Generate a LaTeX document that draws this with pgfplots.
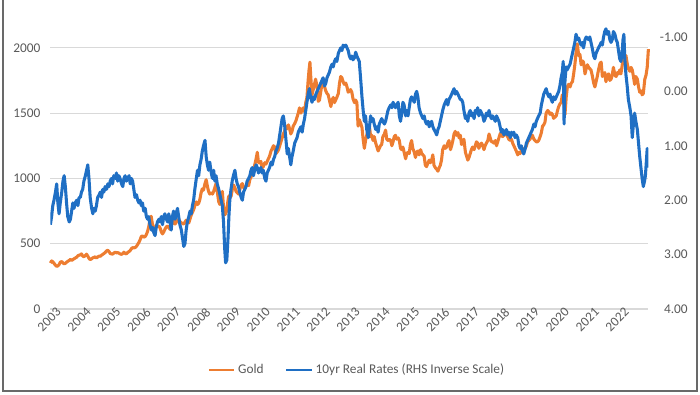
\documentclass[border=0pt]{standalone}
\usepackage{pgfplots}
\pgfplotsset{compat=1.18}
\usepackage{pgfplotstable}
\usepackage{fontspec}
\setmainfont{Carlito}
\definecolor{goldc}{RGB}{237,125,49}
\definecolor{ratec}{RGB}{31,111,196}
\definecolor{gridc}{RGB}{217,217,217}
\definecolor{labc}{RGB}{89,89,89}
\definecolor{framec}{RGB}{105,105,105}

\pgfplotstableread{
t v
2003.00 352
2003.04 368
2003.08 362
2003.12 350
2003.17 335
2003.21 327
2003.25 330
2003.29 340
2003.33 358
2003.38 364
2003.42 352
2003.46 346
2003.50 350
2003.54 358
2003.58 365
2003.63 372
2003.67 380
2003.71 372
2003.75 378
2003.79 385
2003.83 390
2003.88 397
2003.92 408
2003.96 412
2004.00 415
2004.04 422
2004.08 405
2004.12 400
2004.17 410
2004.21 420
2004.25 405
2004.29 388
2004.33 378
2004.38 385
2004.42 392
2004.46 395
2004.50 400
2004.54 390
2004.58 398
2004.63 405
2004.67 404
2004.71 412
2004.75 418
2004.79 425
2004.83 432
2004.88 445
2004.92 450
2004.96 440
2005.00 425
2005.04 422
2005.08 420
2005.12 428
2005.17 435
2005.21 430
2005.25 432
2005.29 428
2005.33 422
2005.38 418
2005.42 425
2005.46 435
2005.50 425
2005.54 422
2005.58 432
2005.63 440
2005.67 448
2005.71 462
2005.75 470
2005.79 468
2005.83 470
2005.88 480
2005.92 495
2005.96 510
2006.00 530
2006.04 555
2006.08 560
2006.12 550
2006.17 555
2006.21 570
2006.25 595
2006.29 630
2006.33 690
2006.37 710
2006.42 640
2006.46 590
2006.50 620
2006.54 640
2006.58 630
2006.63 635
2006.67 620
2006.71 590
2006.75 575
2006.79 590
2006.83 610
2006.88 630
2006.92 635
2006.96 625
2007.00 610
2007.04 640
2007.08 655
2007.12 680
2007.17 650
2007.21 665
2007.25 680
2007.29 685
2007.33 670
2007.38 660
2007.42 655
2007.46 650
2007.50 665
2007.54 680
2007.58 670
2007.63 660
2007.67 690
2007.71 720
2007.75 740
2007.79 760
2007.83 790
2007.88 820
2007.92 800
2007.96 810
2008.00 840
2008.04 890
2008.08 920
2008.12 910
2008.17 960
2008.21 990
2008.25 940
2008.29 900
2008.33 880
2008.38 890
2008.42 880
2008.46 900
2008.50 930
2008.54 960
2008.58 900
2008.63 820
2008.67 800
2008.71 860
2008.75 900
2008.79 780
2008.83 720
2008.88 740
2008.92 800
2008.96 860
2009.00 870
2009.04 860
2009.08 910
2009.12 950
2009.17 930
2009.21 900
2009.25 890
2009.29 880
2009.33 910
2009.38 950
2009.42 960
2009.46 930
2009.50 920
2009.54 940
2009.58 950
2009.63 945
2009.67 990
2009.71 1010
2009.75 1040
2009.79 1050
2009.83 1100
2009.88 1150
2009.92 1200
2009.96 1120
2010.00 1120
2010.04 1130
2010.08 1080
2010.12 1090
2010.17 1120
2010.21 1110
2010.25 1130
2010.29 1150
2010.33 1170
2010.38 1210
2010.42 1230
2010.46 1250
2010.50 1240
2010.54 1190
2010.58 1200
2010.63 1220
2010.67 1250
2010.71 1280
2010.75 1310
2010.79 1340
2010.83 1360
2010.88 1400
2010.92 1380
2010.96 1410
2011.00 1380
2011.04 1340
2011.08 1360
2011.12 1400
2011.17 1420
2011.21 1440
2011.25 1470
2011.29 1500
2011.33 1540
2011.38 1500
2011.42 1530
2011.46 1540
2011.50 1510
2011.54 1580
2011.58 1620
2011.62 1750
2011.65 1830
2011.68 1890
2011.71 1770
2011.75 1640
2011.79 1680
2011.83 1720
2011.87 1760
2011.92 1700
2011.96 1590
2012.00 1600
2012.04 1660
2012.08 1720
2012.12 1760
2012.17 1700
2012.21 1670
2012.25 1650
2012.29 1640
2012.33 1600
2012.38 1550
2012.42 1600
2012.46 1620
2012.50 1580
2012.54 1600
2012.58 1620
2012.63 1650
2012.67 1730
2012.71 1780
2012.75 1770
2012.79 1740
2012.83 1720
2012.88 1730
2012.92 1700
2012.96 1660
2013.00 1670
2013.04 1680
2013.08 1660
2013.12 1610
2013.17 1580
2013.21 1600
2013.25 1580
2013.29 1400
2013.33 1450
2013.38 1420
2013.42 1390
2013.46 1300
2013.50 1230
2013.54 1290
2013.58 1330
2013.63 1380
2013.67 1400
2013.71 1320
2013.75 1330
2013.79 1290
2013.83 1320
2013.88 1270
2013.92 1240
2013.96 1210
2014.00 1230
2014.04 1250
2014.08 1260
2014.12 1320
2014.17 1340
2014.21 1370
2014.25 1300
2014.29 1290
2014.33 1300
2014.38 1290
2014.42 1250
2014.46 1280
2014.50 1320
2014.54 1330
2014.58 1300
2014.63 1310
2014.67 1290
2014.71 1230
2014.75 1220
2014.79 1240
2014.83 1200
2014.88 1150
2014.92 1190
2014.96 1200
2015.00 1190
2015.04 1260
2015.08 1290
2015.12 1230
2015.17 1200
2015.21 1160
2015.25 1200
2015.29 1210
2015.33 1180
2015.38 1220
2015.42 1190
2015.46 1180
2015.50 1170
2015.54 1100
2015.58 1090
2015.63 1120
2015.67 1140
2015.71 1120
2015.75 1140
2015.79 1180
2015.83 1100
2015.88 1080
2015.92 1070
2015.96 1055
2016.00 1080
2016.04 1100
2016.08 1140
2016.12 1220
2016.17 1250
2016.21 1230
2016.25 1240
2016.29 1270
2016.33 1290
2016.38 1220
2016.42 1250
2016.46 1290
2016.50 1340
2016.54 1360
2016.58 1330
2016.63 1350
2016.67 1310
2016.71 1330
2016.75 1260
2016.79 1270
2016.83 1300
2016.88 1200
2016.92 1170
2016.96 1140
2017.00 1160
2017.04 1190
2017.08 1220
2017.12 1240
2017.17 1220
2017.21 1250
2017.25 1280
2017.29 1270
2017.33 1230
2017.38 1260
2017.42 1270
2017.46 1250
2017.50 1220
2017.54 1250
2017.58 1270
2017.63 1290
2017.67 1340
2017.71 1310
2017.75 1280
2017.79 1280
2017.83 1270
2017.88 1290
2017.92 1250
2017.96 1280
2018.00 1310
2018.04 1340
2018.08 1350
2018.12 1320
2018.17 1330
2018.21 1340
2018.25 1340
2018.29 1320
2018.33 1300
2018.38 1290
2018.42 1300
2018.46 1270
2018.50 1250
2018.54 1230
2018.58 1210
2018.63 1180
2018.67 1200
2018.71 1190
2018.75 1210
2018.79 1230
2018.83 1220
2018.88 1230
2018.92 1250
2018.96 1280
2019.00 1290
2019.04 1300
2019.08 1320
2019.12 1330
2019.17 1300
2019.21 1290
2019.25 1280
2019.29 1280
2019.33 1290
2019.38 1320
2019.42 1350
2019.46 1400
2019.50 1410
2019.54 1430
2019.58 1500
2019.63 1520
2019.67 1510
2019.71 1490
2019.75 1500
2019.79 1490
2019.83 1460
2019.88 1470
2019.92 1480
2019.96 1520
2020.00 1550
2020.04 1570
2020.08 1580
2020.12 1640
2020.17 1580
2020.21 1490
2020.25 1620
2020.29 1700
2020.33 1720
2020.38 1700
2020.42 1730
2020.46 1740
2020.50 1800
2020.54 1870
2020.58 1960
2020.62 2030
2020.67 1940
2020.71 1950
2020.75 1870
2020.79 1900
2020.83 1890
2020.88 1800
2020.92 1840
2020.96 1870
2021.00 1850
2021.04 1840
2021.08 1830
2021.12 1790
2021.17 1730
2021.21 1700
2021.25 1740
2021.29 1780
2021.33 1830
2021.38 1880
2021.42 1890
2021.46 1780
2021.50 1800
2021.54 1810
2021.58 1740
2021.62 1790
2021.67 1800
2021.71 1750
2021.75 1760
2021.79 1790
2021.83 1850
2021.88 1790
2021.92 1780
2021.96 1810
2022.00 1800
2022.04 1830
2022.08 1800
2022.12 1860
2022.17 1950
2022.21 1920
2022.25 1940
2022.29 1880
2022.33 1840
2022.38 1820
2022.42 1850
2022.46 1830
2022.50 1780
2022.54 1720
2022.58 1780
2022.63 1760
2022.67 1700
2022.71 1660
2022.75 1670
2022.79 1640
2022.83 1650
2022.88 1760
2022.92 1790
2022.96 1850
2023.00 1990
}\golddata

\pgfplotstableread{
t v
2003.00 2.45
2003.04 2.30
2003.08 2.10
2003.12 2.00
2003.17 1.85
2003.21 1.70
2003.25 2.05
2003.29 2.25
2003.33 2.05
2003.38 1.85
2003.42 1.65
2003.46 1.55
2003.50 1.75
2003.54 2.05
2003.58 2.30
2003.63 2.40
2003.67 2.35
2003.71 2.20
2003.75 2.05
2003.79 2.15
2003.83 2.05
2003.88 2.00
2003.92 2.10
2003.96 1.95
2004.00 1.95
2004.04 1.85
2004.08 1.80
2004.12 1.65
2004.17 1.55
2004.21 1.45
2004.25 1.35
2004.29 1.60
2004.33 1.95
2004.38 2.15
2004.42 2.25
2004.46 2.15
2004.50 2.20
2004.54 2.10
2004.58 1.95
2004.63 1.90
2004.67 1.85
2004.71 1.95
2004.75 1.80
2004.79 1.85
2004.83 1.75
2004.88 1.80
2004.92 1.70
2004.96 1.75
2005.00 1.65
2005.04 1.60
2005.08 1.70
2005.12 1.55
2005.17 1.60
2005.21 1.50
2005.25 1.65
2005.29 1.55
2005.33 1.60
2005.38 1.70
2005.42 1.75
2005.46 1.60
2005.50 1.55
2005.54 1.65
2005.58 1.60
2005.63 1.55
2005.67 1.70
2005.71 1.60
2005.75 1.65
2005.79 1.80
2005.83 1.95
2005.88 1.90
2005.92 2.00
2005.96 2.05
2006.00 2.00
2006.04 2.10
2006.08 2.05
2006.12 2.20
2006.17 2.15
2006.21 2.30
2006.25 2.35
2006.29 2.30
2006.33 2.45
2006.38 2.55
2006.42 2.50
2006.46 2.60
2006.50 2.65
2006.54 2.50
2006.58 2.40
2006.63 2.35
2006.67 2.40
2006.71 2.30
2006.75 2.45
2006.79 2.30
2006.83 2.25
2006.88 2.35
2006.92 2.40
2006.96 2.25
2007.00 2.40
2007.04 2.55
2007.08 2.30
2007.12 2.20
2007.17 2.35
2007.21 2.25
2007.25 2.15
2007.29 2.30
2007.33 2.45
2007.38 2.55
2007.42 2.70
2007.46 2.85
2007.50 2.80
2007.54 2.55
2007.58 2.40
2007.63 2.30
2007.67 2.20
2007.71 2.25
2007.75 2.10
2007.79 2.00
2007.83 1.80
2007.88 1.60
2007.92 1.45
2007.96 1.55
2008.00 1.35
2008.04 1.25
2008.08 1.10
2008.12 1.00
2008.17 0.90
2008.21 1.20
2008.25 1.35
2008.29 1.45
2008.33 1.30
2008.38 1.50
2008.42 1.60
2008.46 1.45
2008.50 1.65
2008.54 1.55
2008.58 1.70
2008.63 1.80
2008.67 1.90
2008.71 2.00
2008.75 2.10
2008.79 2.40
2008.83 2.90
2008.86 3.15
2008.90 3.10
2008.94 2.70
2008.97 2.30
2009.00 2.00
2009.04 1.80
2009.08 1.65
2009.12 1.55
2009.17 1.45
2009.21 1.60
2009.25 1.70
2009.29 1.75
2009.33 1.85
2009.38 1.95
2009.42 2.00
2009.46 1.85
2009.50 1.80
2009.54 1.75
2009.58 1.65
2009.63 1.60
2009.67 1.55
2009.71 1.45
2009.75 1.40
2009.79 1.55
2009.83 1.45
2009.88 1.35
2009.92 1.40
2009.96 1.50
2010.00 1.45
2010.04 1.40
2010.08 1.50
2010.12 1.45
2010.17 1.60
2010.21 1.65
2010.25 1.50
2010.29 1.45
2010.33 1.40
2010.38 1.30
2010.42 1.35
2010.46 1.25
2010.50 1.20
2010.54 1.10
2010.58 1.05
2010.63 0.95
2010.67 0.80
2010.71 0.65
2010.75 0.50
2010.79 0.45
2010.83 0.60
2010.88 0.90
2010.92 1.15
2010.96 1.05
2011.00 1.20
2011.04 1.35
2011.08 1.20
2011.12 1.10
2011.17 0.95
2011.21 0.90
2011.25 0.85
2011.29 0.75
2011.33 0.70
2011.38 0.65
2011.42 0.75
2011.46 0.60
2011.50 0.50
2011.54 0.35
2011.58 0.20
2011.62 0.05
2011.66 -0.05
2011.70 0.10
2011.75 0.20
2011.79 0.10
2011.83 0.15
2011.88 0.05
2011.92 0.00
2011.96 -0.05
2012.00 -0.10
2012.04 -0.15
2012.08 -0.20
2012.12 -0.25
2012.17 -0.10
2012.21 -0.15
2012.25 -0.25
2012.29 -0.30
2012.33 -0.35
2012.38 -0.45
2012.42 -0.50
2012.46 -0.45
2012.50 -0.55
2012.54 -0.60
2012.58 -0.55
2012.63 -0.70
2012.67 -0.75
2012.71 -0.80
2012.75 -0.75
2012.79 -0.85
2012.83 -0.82
2012.88 -0.85
2012.92 -0.80
2012.96 -0.75
2013.00 -0.65
2013.04 -0.60
2013.08 -0.65
2013.12 -0.58
2013.17 -0.62
2013.21 -0.72
2013.25 -0.65
2013.29 -0.60
2013.33 -0.55
2013.38 -0.20
2013.42 0.10
2013.46 0.35
2013.50 0.55
2013.54 0.45
2013.58 0.70
2013.63 0.85
2013.67 0.65
2013.71 0.45
2013.75 0.55
2013.79 0.50
2013.83 0.60
2013.88 0.70
2013.92 0.65
2013.96 0.75
2014.00 0.60
2014.04 0.55
2014.08 0.50
2014.12 0.55
2014.17 0.60
2014.21 0.55
2014.25 0.45
2014.29 0.35
2014.33 0.30
2014.38 0.25
2014.42 0.30
2014.46 0.20
2014.50 0.25
2014.54 0.30
2014.58 0.25
2014.63 0.20
2014.67 0.45
2014.71 0.55
2014.75 0.40
2014.79 0.20
2014.83 0.25
2014.88 0.45
2014.92 0.35
2014.96 0.45
2015.00 0.30
2015.04 0.15
2015.08 0.10
2015.12 0.15
2015.17 0.20
2015.21 0.05
2015.25 0.00
2015.29 0.10
2015.33 0.30
2015.38 0.40
2015.42 0.45
2015.46 0.50
2015.50 0.45
2015.54 0.55
2015.58 0.60
2015.63 0.55
2015.67 0.65
2015.71 0.60
2015.75 0.55
2015.79 0.65
2015.83 0.70
2015.88 0.75
2015.92 0.80
2015.96 0.70
2016.00 0.65
2016.04 0.55
2016.08 0.45
2016.12 0.35
2016.17 0.25
2016.21 0.20
2016.25 0.15
2016.29 0.25
2016.33 0.15
2016.38 0.10
2016.42 0.05
2016.46 0.00
2016.50 -0.05
2016.54 0.05
2016.58 0.00
2016.63 0.05
2016.67 0.10
2016.71 0.15
2016.75 0.15
2016.79 0.20
2016.83 0.35
2016.88 0.50
2016.92 0.45
2016.96 0.55
2017.00 0.40
2017.04 0.35
2017.08 0.45
2017.12 0.40
2017.17 0.50
2017.21 0.35
2017.25 0.40
2017.29 0.30
2017.33 0.45
2017.38 0.35
2017.42 0.40
2017.46 0.45
2017.50 0.55
2017.54 0.50
2017.58 0.40
2017.63 0.45
2017.67 0.35
2017.71 0.45
2017.75 0.50
2017.79 0.45
2017.83 0.50
2017.88 0.55
2017.92 0.45
2017.96 0.50
2018.00 0.55
2018.04 0.65
2018.08 0.75
2018.12 0.70
2018.17 0.80
2018.21 0.75
2018.25 0.70
2018.29 0.80
2018.33 0.75
2018.38 0.85
2018.42 0.75
2018.46 0.80
2018.50 0.75
2018.54 0.85
2018.58 0.80
2018.63 0.85
2018.67 1.00
2018.71 1.05
2018.75 1.00
2018.79 1.10
2018.83 1.15
2018.88 1.05
2018.92 0.95
2018.96 0.90
2019.00 0.85
2019.04 0.80
2019.08 0.75
2019.12 0.70
2019.17 0.60
2019.21 0.65
2019.25 0.55
2019.29 0.50
2019.33 0.45
2019.38 0.40
2019.42 0.25
2019.46 0.15
2019.50 0.05
2019.54 0.00
2019.58 -0.05
2019.63 0.05
2019.67 0.10
2019.71 0.05
2019.75 0.15
2019.79 0.20
2019.83 0.10
2019.88 0.15
2019.92 0.10
2019.96 0.05
2020.00 0.00
2020.04 -0.10
2020.08 -0.25
2020.12 -0.35
2020.15 -0.55
2020.18 0.60
2020.21 -0.20
2020.25 -0.45
2020.29 -0.40
2020.33 -0.45
2020.38 -0.50
2020.42 -0.60
2020.46 -0.70
2020.50 -0.80
2020.54 -0.90
2020.58 -1.05
2020.63 -0.95
2020.67 -0.98
2020.71 -0.90
2020.75 -0.85
2020.79 -0.90
2020.83 -0.80
2020.88 -0.95
2020.92 -1.00
2020.96 -0.98
2021.00 -0.95
2021.04 -1.00
2021.08 -0.90
2021.12 -0.80
2021.17 -0.65
2021.21 -0.60
2021.25 -0.70
2021.29 -0.75
2021.33 -0.80
2021.38 -0.85
2021.42 -0.90
2021.46 -0.85
2021.50 -1.00
2021.54 -1.10
2021.58 -1.15
2021.62 -1.05
2021.67 -1.10
2021.71 -0.95
2021.75 -0.90
2021.79 -0.95
2021.83 -1.10
2021.88 -1.05
2021.92 -0.95
2021.96 -0.90
2022.00 -0.75
2022.04 -0.60
2022.08 -0.55
2022.12 -0.70
2022.15 -0.95
2022.18 -1.05
2022.21 -0.60
2022.25 -0.30
2022.29 -0.10
2022.33 0.15
2022.38 0.30
2022.42 0.45
2022.46 0.85
2022.50 0.60
2022.54 0.40
2022.58 0.55
2022.63 0.70
2022.67 0.95
2022.71 1.20
2022.75 1.40
2022.79 1.60
2022.83 1.75
2022.87 1.65
2022.90 1.55
2022.93 1.30
2022.96 1.05
2023.00 1.40
}\ratedata

\begin{document}
\begin{tikzpicture}
\path[use as bounding box] (0,0) rectangle (525pt,295.5pt);
\draw[framec, line width=1.2pt] (2.25pt,296pt) -- (2.25pt,2.25pt) -- (522.75pt,2.25pt) -- (522.75pt,296pt);
\begin{axis}[
  at={(37.8pt,63.75pt)}, anchor=south west,
  scale only axis, width=448.5pt, height=220.5pt,
  xmin=2003, xmax=2023, ymin=0, ymax=2251,
  axis line style={draw=none},
  ytick={0,500,1000,1500,2000},
  ymajorgrids, grid style={gridc, line width=0.8pt},
  xtick={2003,2004,...,2022},
  tick style={draw=none},
  ticklabel style={font=\fontsize{10}{12}\selectfont, text=labc},
  yticklabel style={xshift=-4pt},
  xticklabel style={rotate=45, anchor=east, inner sep=1pt, xshift=5pt, yshift=-5pt},
  /pgf/number format/assume math mode=true,
  /pgf/number format/1000 sep={},
  clip=false,
]
\addplot[goldc, line width=2.3pt, line join=round] table[x=t, y=v] {\golddata};
\end{axis}
\begin{axis}[
  at={(37.8pt,63.75pt)}, anchor=south west,
  scale only axis, width=448.5pt, height=220.5pt,
  xmin=2003, xmax=2023, ymin=-1.404, ymax=4, y dir=reverse,
  axis y line*=right, axis x line=none,
  axis line style={draw=none},
  ytick={-1,0,1,2,3,4},
  tick style={draw=none},
  ticklabel style={font=\fontsize{10}{12}\selectfont, text=labc},
  yticklabel style={anchor=east, xshift=33pt},
  /pgf/number format/assume math mode=true,
  /pgf/number format/.cd, fixed, fixed zerofill, precision=2,
  /pgfplots/.cd,
  legend style={at={(0.513,-0.207)}, anchor=center, draw=none, fill=none,
    font=\fontsize{10}{12}\selectfont, text=labc, legend columns=2,
    /tikz/every even column/.append style={column sep=14pt}},
  legend image code/.code={\draw[#1, line width=2pt] (0pt,0pt) -- (19pt,0pt);},
]
\addlegendimage{goldc, line width=2pt}
\addlegendentry{Gold}
\addplot[ratec, line width=2.3pt, line join=round] table[x=t, y=v] {\ratedata};
\addlegendentry{10yr Real Rates (RHS Inverse Scale)}
\end{axis}
\end{tikzpicture}
\end{document}
